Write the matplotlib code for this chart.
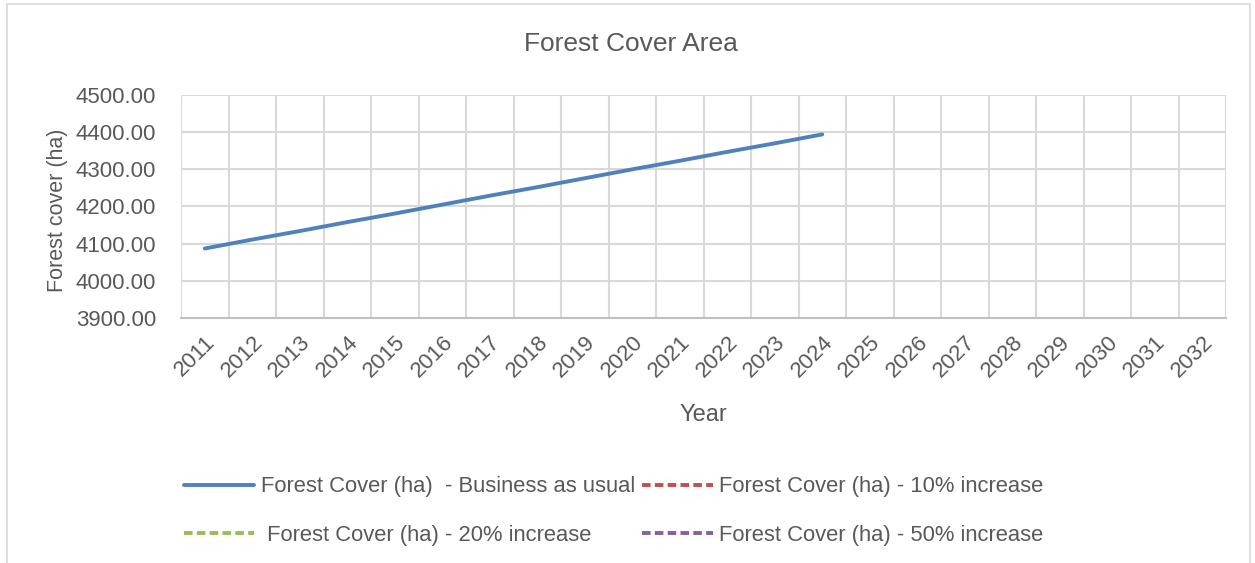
import numpy as np
import matplotlib
matplotlib.use('Agg')
import matplotlib.pyplot as plt
from matplotlib.patches import Rectangle

years = [str(y) for y in range(2011, 2033)]
bau = [4087, 4111, 4134, 4158, 4181, 4205, 4229, 4252, 4276, 4300, 4323, 4347, 4370, 4394]
inc10 = []
inc20 = []
inc50 = []

plt.rcParams['font.family'] = ['Liberation Sans Narrow', 'Liberation Sans', 'DejaVu Sans']
txt = '#595959'
grid = '#d9d9d9'

fig = plt.figure(figsize=(12.55, 5.63), dpi=100)
ax = fig.add_axes([181 / 1255, 1 - 318 / 563, 1045 / 1255, 223 / 563])

x = np.arange(len(years))


def pad(vals):
    v = np.full(len(years), np.nan)
    v[:len(vals)] = vals
    return v


l1, = ax.plot(x, pad(bau), color='#4f81bd', lw=2.8, solid_capstyle='round',
              label='Forest Cover (ha)  - Business as usual')
l2, = ax.plot(x, pad(inc10), color='#c0504d', lw=2.8, ls=(0, (2.2, 1.1)),
              label='Forest Cover (ha) - 10% increase')
l3, = ax.plot(x, pad(inc20), color='#9bbb59', lw=2.8, ls=(0, (2.2, 1.1)),
              label=' Forest Cover (ha) - 20% increase')
l4, = ax.plot(x, pad(inc50), color='#8064a2', lw=2.8, ls=(0, (2.2, 1.1)),
              label='Forest Cover (ha) - 50% increase')

ax.set_xlim(-0.5, len(years) - 0.5)
ax.set_ylim(3900, 4500)
ax.set_yticks(np.arange(3900, 4501, 100))
ax.set_yticklabels([f'{v:.2f}' for v in np.arange(3900, 4501, 100)])
ax.set_xticks(x)
ax.set_xticklabels(years, rotation=45, ha='right', rotation_mode='anchor')
ax.set_xticks(np.arange(-0.5, len(years)), minor=True)
ax.tick_params(axis='both', which='both', length=0, colors=txt, labelsize=16)
ax.tick_params(axis='y', pad=18)
ax.tick_params(axis='x', pad=10)
ax.grid(True, which='minor', axis='x', color=grid, lw=1.5)
ax.grid(True, which='major', axis='y', color=grid, lw=1.5)
ax.set_axisbelow(True)
for s in ['top', 'right', 'left']:
    ax.spines[s].set_visible(False)
ax.spines['bottom'].set_color('#bfbfbf')
ax.spines['bottom'].set_linewidth(1.5)

fig.text(58 / 1255, 1 - 210 / 563, 'Forest cover (ha)', rotation=90, ha='center', va='center',
         color=txt, fontsize=15.5)
fig.text(703 / 1255, 1 - 415 / 563, 'Year', ha='center', va='center', color=txt, fontsize=17)
fig.text(631 / 1255, 1 - 44 / 563, 'Forest Cover Area', ha='center', va='center', color=txt, fontsize=19)

leg = fig.legend([l1, l3, l2, l4], [l1.get_label(), l3.get_label(), l2.get_label(), l4.get_label()],
                 loc='center left', bbox_to_anchor=(164 / 1255, 1 - 511 / 563), ncol=2,
                 frameon=False, fontsize=15.8, handlelength=3.2, handletextpad=0.3,
                 columnspacing=0.35, labelspacing=1.25, labelcolor=txt)

fig.patches.append(Rectangle((7 / 1255, -0.05), (1250 - 7) / 1255, 1.05 - 4 / 563,
                             transform=fig.transFigure, fill=False, ec='#d9d9d9', lw=1.2))

fig.savefig('out.png', dpi=100, facecolor='white')
